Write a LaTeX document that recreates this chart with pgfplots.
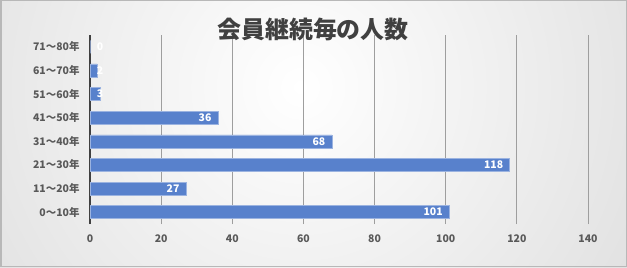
\documentclass[border=0pt]{standalone}
\usepackage{fontspec}
\setmainfont{Noto Sans CJK JP}
\usepackage{pgfplots}
\pgfplotsset{compat=1.18}
\definecolor{barblue}{RGB}{88,129,204}
\definecolor{txt}{RGB}{89,89,89}
\definecolor{ttl}{RGB}{64,64,64}
\begin{document}
\begin{tikzpicture}[x=1bp,y=1bp]
\begin{scope}
\clip (0,0) rectangle (627,267);
\shade[inner color=white, outer color=black!22] (300,180) circle (720);
\end{scope}
\draw[black!28, line width=1.5bp] (0.75,0.75) rectangle (626.25,266.25);
\begin{axis}[
 at={(90bp,43bp)}, anchor=south west, scale only axis,
 width=498bp, height=189bp,
 xmin=0, xmax=140, ymin=-0.5, ymax=7.5,
 xtick={0,20,...,140}, ytick={0,...,7},
 yticklabels={0〜10年,11〜20年,21〜30年,31〜40年,41〜50年,51〜60年,61〜70年,71〜80年},
 axis lines=left, axis line style={-},
 x axis line style={draw=none},
 y axis line style={draw=ttl, line width=1.8bp},
 xmajorgrids, grid style={draw=black!38, line width=0.9bp},
 major tick length=0pt,
 tick label style={font=\bfseries\fontsize{10.5}{12}\selectfont, text=txt},
 /pgf/number format/assume math mode=true,
 xticklabel style={yshift=-7bp},
 yticklabel style={xshift=-7bp},
 xbar, bar width=13bp,
]
\addplot[xbar, fill=barblue, draw=barblue!60!white, line width=0.6bp,
 nodes near coords, visualization depends on={x \as \rawx},
 every node near coord/.append style={anchor=east, text=white, font=\bfseries\fontsize{10.5}{12}\selectfont, xshift={ifthenelse(\rawx<10,17-3.557*\rawx,-3)}}]
coordinates {(101,0) (27,1) (118,2) (68,3) (36,4) (3,5) (2,6) (0,7)};
\end{axis}
\node[font=\bfseries\fontsize{24}{28}\selectfont, text=ttl] at (313,237.5) {会員継続毎の人数};
\end{tikzpicture}
\end{document}
